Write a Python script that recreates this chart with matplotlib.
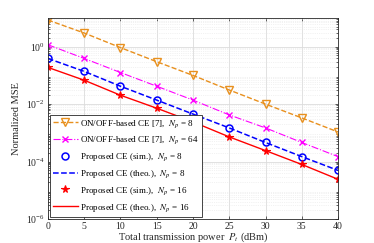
import numpy as np
import matplotlib.pyplot as plt
from matplotlib.ticker import LogLocator, NullFormatter

plt.rcParams['font.family'] = ['Liberation Serif', 'DejaVu Serif']
plt.rcParams['mathtext.fontset'] = 'stix'

power = [0, 5, 10, 15, 20, 25, 30, 35, 40]
onoff_np8 = [8.5, 3.0, 0.93, 0.30, 0.10, 0.031, 0.010, 0.0033, 0.00107]
onoff_np64 = [1.17, 0.39, 0.126, 0.042, 0.0138, 0.0042, 0.00148, 0.00046, 0.000148]
prop_sim_np8 = [0.39, 0.138, 0.042, 0.0138, 0.0045, 0.00148, 0.00046, 0.000148, 0.000049]
prop_theo_np8 = [0.39, 0.138, 0.042, 0.0138, 0.0045, 0.00148, 0.00046, 0.000148, 0.000049]
prop_sim_np16 = [0.19, 0.068, 0.0204, 0.0072, 0.0024, 0.00072, 0.00024, 0.000079, 0.000024]
prop_theo_np16 = [0.19, 0.068, 0.0204, 0.0072, 0.0024, 0.00072, 0.00024, 0.000079, 0.000024]

labels = [
    r'ON/OFF-based CE [7],  $N_p$ = 8',
    r'ON/OFF-based CE [7],  $N_p$ = 64',
    r'Proposed CE (sim.),  $N_p$ = 8',
    r'Proposed CE (theo.),  $N_p$ = 8',
    r'Proposed CE (sim.),  $N_p$ = 16',
    r'Proposed CE (theo.),  $N_p$ = 16',
]

fig = plt.figure(figsize=(3.74, 2.43), dpi=100)
ax = fig.add_axes([0.128, 0.099, 0.776, 0.827])

ax.semilogy(power, onoff_np8, color='#E8901E', ls='--', lw=1.0, marker='v',
            mfc='none', ms=5.5, mew=1.0, label=labels[0])
ax.semilogy(power, onoff_np64, color='#FF00FF', ls='-.', lw=0.8, marker='x',
            ms=4, mew=1.0, label=labels[1])
ax.semilogy(power, prop_sim_np8, color='#0000FF', ls='none', marker='o',
            mfc='none', ms=5, mew=1.1, label=labels[2])
ax.semilogy(power, prop_theo_np8, color='#0000FF', ls='--', lw=1.1, label=labels[3])
ax.semilogy(power, prop_sim_np16, color='#FF0000', ls='none', marker='*',
            ms=5.5, mew=0.8, label=labels[4])
ax.semilogy(power, prop_theo_np16, color='#FF0000', ls='-', lw=1.0, label=labels[5])

ax.set_xlim(0, 40)
ax.set_ylim(1e-6, 1e1)
ax.set_xticks(power)
ax.set_yticks([1e-6, 1e-4, 1e-2, 1e0])
ax.yaxis.set_minor_locator(LogLocator(base=10, subs=np.arange(2, 10), numticks=20))
ax.yaxis.set_minor_formatter(NullFormatter())

ax.grid(True, which='major', color='#dcdcdc', lw=0.6)
ax.grid(True, which='minor', axis='y', color='#e6e6e6', lw=0.5, ls=':')
ax.set_axisbelow(True)
ax.tick_params(which='both', direction='in', top=True, right=True, pad=2,
               labelsize=7, length=2.5, width=0.5, colors='#262626', labelcolor='#262626')
ax.tick_params(which='minor', length=1.5)
for s in ax.spines.values():
    s.set_color('#262626')
    s.set_linewidth(0.6)

ax.set_xlabel(r'Total transmission power  $P_t$ (dBm)', fontsize=7.5, labelpad=0, color='#262626')
ax.set_ylabel('Normalized MSE', fontsize=7.5, labelpad=4, color='#262626')

leg = ax.legend(loc='lower left', fontsize=6.5, fancybox=False, edgecolor='#262626',
                framealpha=1, borderaxespad=0.25, handlelength=2.7, labelspacing=0.55,
                borderpad=0.35, handletextpad=0.3)
leg.get_frame().set_linewidth(0.6)

fig.savefig('out.png', dpi=100)
